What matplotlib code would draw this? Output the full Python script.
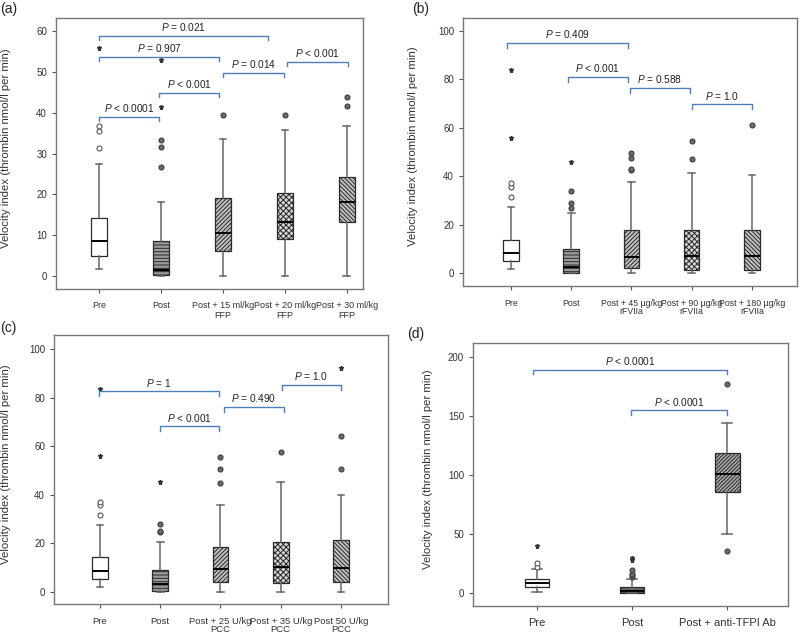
import numpy as np
import matplotlib
matplotlib.use("Agg")
import matplotlib.pyplot as plt

plt.rcParams['font.family'] = ['Liberation Sans', 'DejaVu Sans']
plt.rcParams['mathtext.fontset'] = 'custom'
plt.rcParams['mathtext.it'] = 'Liberation Sans:italic'
plt.rcParams['mathtext.rm'] = 'Liberation Sans'
plt.rcParams['hatch.linewidth'] = 0.7

# ---------------- panel (a): FFP ----------------
a_labels = ['Pre', 'Post', 'Post + 15 ml/kg\nFFP', 'Post + 20 ml/kg\nFFP', 'Post + 30 ml/kg\nFFP']
a_q1 = [5.0, 0.3, 6.2, 9.0, 13.2]
a_med = [8.6, 1.5, 10.6, 13.2, 18.1]
a_q3 = [14.1, 8.6, 19.2, 20.3, 24.3]
a_lo = [1.7, 0.0, 0.0, 0.0, 0.0]
a_hi = [27.4, 18.1, 33.5, 35.8, 36.7]
a_out = [[31.4, 35.5, 36.8], [26.6, 31.5, 33.3], [39.4], [39.4], [41.6, 43.9]]
a_ext = [[55.9], [41.3, 52.9], [], [], []]
# bracket: start, end (category position), level, label
a_brackets = [(1.0, 3.73, 58.8, 'P = 0.021'),
              (1.0, 2.94, 53.7, 'P = 0.907'),
              (3.0, 3.98, 49.8, 'P = 0.014'),
              (4.04, 5.02, 52.5, 'P < 0.001'),
              (1.97, 2.94, 44.9, 'P < 0.001'),
              (1.0, 1.97, 39.0, 'P < 0.0001')]

# ---------------- panel (b): rFVIIa ----------------
b_labels = ['Pre', 'Post', 'Post + 45 \u00b5g/kg\nrFVIIa', 'Post + 90 \u00b5g/kg\nrFVIIa', 'Post + 180 \u00b5g/kg\nrFVIIa']
b_q1 = [4.8, 0.1, 2.1, 1.4, 1.4]
b_med = [8.4, 2.5, 6.5, 7.0, 7.2]
b_q3 = [13.8, 10.1, 17.6, 17.6, 17.6]
b_lo = [1.7, 0.0, 0.0, 0.0, 0.0]
b_hi = [27.3, 24.9, 37.6, 41.5, 40.4]
b_out = [[31.4, 35.5, 37.1], [26.9, 28.9, 33.9], [42.5, 42.9, 47.5, 49.4], [47.0, 54.7], [61.0]]
b_ext = [[55.9, 83.7], [45.9], [], [], []]
b_brackets = [(0.94, 2.94, 95.0, 'P = 0.409'),
              (1.95, 2.94, 81.0, 'P < 0.001'),
              (2.98, 3.97, 76.4, 'P = 0.588'),
              (4.01, 5.0, 69.7, 'P = 1.0')]

# ---------------- panel (c): PCC ----------------
c_labels = ['Pre', 'Post', 'Post + 25 U/kg\nPCC', 'Post + 35 U/kg\nPCC', 'Post 50 U/kg\nPCC']
c_q1 = [5.2, 0.4, 4.1, 3.6, 4.0]
c_med = [8.8, 3.2, 9.3, 10.2, 10.0]
c_q3 = [14.3, 9.0, 18.5, 20.6, 21.3]
c_lo = [2.0, 0.2, 0.2, 0.0, 0.0]
c_hi = [27.7, 20.7, 35.8, 45.4, 39.8]
c_out = [[31.7, 35.8, 37.2], [24.6, 25.2, 28.1], [45.0, 50.7, 55.6], [57.7], [50.7, 64.2]]
c_ext = [[55.9, 83.7], [45.3], [], [], [92.2]]
c_brackets = [(0.98, 2.98, 82.6, 'P = 1'),
              (1.99, 2.98, 68.2, 'P < 0.001'),
              (3.06, 4.05, 76.1, 'P = 0.490'),
              (4.02, 5.0, 85.3, 'P = 1.0')]

# ---------------- panel (d): anti-TFPI ----------------
d_labels = ['Pre', 'Post', 'Post + anti-TFPI Ab']
d_q1 = [5.4, 0.3, 85.9]
d_med = [8.5, 1.5, 100.6]
d_q3 = [11.6, 5.4, 118.9]
d_lo = [0.8, 0.0, 50.3]
d_hi = [20.1, 11.9, 144.3]
d_out = [[22.0, 25.7], [13.5, 15.0, 16.4, 19.8], [35.6, 176.9]]
d_ext = [[39.8], [28.2, 30.0], []]
d_brackets = [(0.96, 3.0, 189.3, 'P < 0.0001'),
              (1.99, 3.0, 154.8, 'P < 0.0001')]

# box styles
hatches5 = ['', '-----', '////////', 'xxxxxx', '\\\\\\\\\\\\\\\\']
faces5 = ['white', '#9a9a9a', '#c0c0c0', '#d4d4d4', '#c0c0c0']
hatches3 = ['', '------', '/////////']
faces3 = ['white', '#707070', '#a8a8a8']

BLUE = '#4f7fb8'
DARK = '#333333'


def draw_panel(ax, labels, q1, med, q3, lo, hi, out, ext, brackets,
               hatches, faces, ylim, xlim, yticks, drop, fs_x, ylab_x):
    pos = np.arange(1, len(labels) + 1)
    stats = []
    for i in range(len(labels)):
        stats.append(dict(med=med[i], q1=q1[i], q3=q3[i],
                          whislo=lo[i], whishi=hi[i], fliers=out[i]))
    bp = ax.bxp(stats, positions=pos, widths=0.26, capwidths=0.11,
                patch_artist=True, showfliers=True,
                boxprops=dict(edgecolor='#2a2a2a', linewidth=0.9),
                medianprops=dict(color='black', linewidth=1.4),
                whiskerprops=dict(color='#666666', linewidth=1.1),
                capprops=dict(color='#666666', linewidth=1.1),
                flierprops=dict(marker='o', markersize=3.6,
                                markerfacecolor='#6a6a6a',
                                markeredgecolor='#404040', markeredgewidth=0.8))
    for box, h, f in zip(bp['boxes'], hatches, faces):
        box.set_facecolor(f)
        box.set_hatch(h)
    # the "Pre" outliers are open circles
    bp['fliers'][0].set_markerfacecolor('white')
    bp['fliers'][0].set_markeredgecolor('#555555')
    # extreme values
    for p, vals in zip(pos, ext):
        if vals:
            ax.plot([p] * len(vals), vals, linestyle='none', marker='*',
                    markersize=3.6, color='#333333')
    # significance brackets
    for x0, x1, y, txt in brackets:
        ax.plot([x0, x0, x1, x1], [y - drop, y, y, y - drop],
                color=BLUE, linewidth=1.0, clip_on=False)
        lab = '$P$' + txt[1:]
        ax.text((x0 + x1) / 2, y + drop * 0.55, lab, ha='center', va='bottom',
                fontsize=7.3, color='#222222')
    ax.set_xlim(*xlim)
    ax.set_ylim(*ylim)
    ax.set_yticks(yticks)
    ax.set_xticks(pos)
    ax.set_xticklabels(labels, fontsize=fs_x, color=DARK, linespacing=1.0)
    ax.tick_params(axis='y', labelsize=7, labelcolor=DARK, color='#555555',
                   length=3, width=0.8)
    ax.tick_params(axis='x', color='#555555', length=3, width=0.8, pad=6)
    for s in ax.spines.values():
        s.set_color('#777777')
        s.set_linewidth(1.0)
    ax.set_ylabel('Velocity index (thrombin nmol/l per min)', fontsize=8.2,
                  color='#333333')
    ax.yaxis.set_label_coords(ylab_x, 0.52)


fig = plt.figure(figsize=(8, 6.39), dpi=100)
ax_a = fig.add_axes([56 / 800, 1 - 289 / 639, 307 / 800, 271 / 639])
ax_b = fig.add_axes([463 / 800, 1 - 286 / 639, 334 / 800, 268 / 639])
ax_c = fig.add_axes([54 / 800, 1 - 604 / 639, 334 / 800, 269 / 639])
ax_d = fig.add_axes([473 / 800, 1 - 606 / 639, 315 / 800, 263 / 639])

draw_panel(ax_a, a_labels, a_q1, a_med, a_q3, a_lo, a_hi, a_out, a_ext, a_brackets,
           hatches5, faces5, (-3.2, 63.2), (0.306, 5.26), range(0, 61, 10), 1.1, 6.5, -0.145)
draw_panel(ax_b, b_labels, b_q1, b_med, b_q3, b_lo, b_hi, b_out, b_ext, b_brackets,
           hatches5, faces5, (-5.4, 105.4), (0.203, 5.75), range(0, 101, 20), 2.0, 6.3, -0.135)
draw_panel(ax_c, c_labels, c_q1, c_med, c_q3, c_lo, c_hi, c_out, c_ext, c_brackets,
           hatches5, faces5, (-4.9, 105.8), (0.237, 5.78), range(0, 101, 20), 2.0, 6.8, -0.13)
draw_panel(ax_d, d_labels, d_q1, d_med, d_q3, d_lo, d_hi, d_out, d_ext, d_brackets,
           hatches3, faces3, (-11.0, 211.9), (0.326, 3.64), range(0, 201, 50), 4.0, 8, -0.127)

fig.text(0.0, 1 - 9 / 639, '(a)', fontsize=10, va='center', color='#222222')
fig.text(412 / 800, 1 - 9 / 639, '(b)', fontsize=10, va='center', color='#222222')
fig.text(0.0, 1 - 328 / 639, '(c)', fontsize=10, va='center', color='#222222')
fig.text(407 / 800, 1 - 334 / 639, '(d)', fontsize=10, va='center', color='#222222')

fig.savefig('out.png', dpi=100)
